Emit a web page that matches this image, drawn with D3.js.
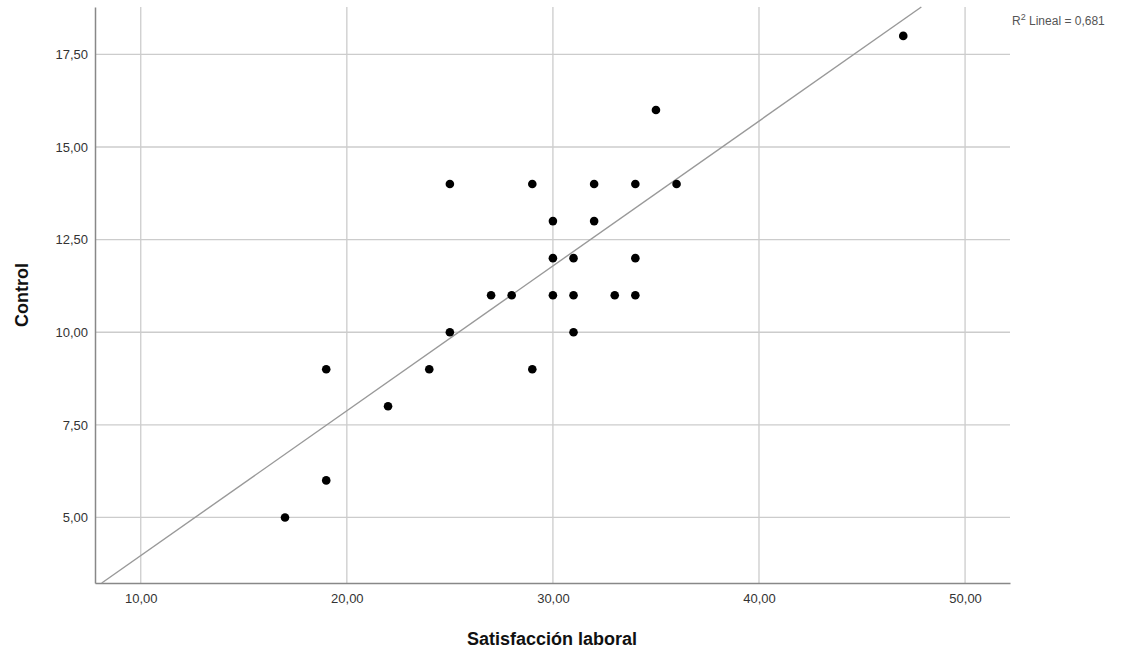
<!DOCTYPE html>
<html>
<head>
<meta charset="utf-8">
<script src="https://cdn.jsdelivr.net/npm/d3@7"></script>
<style>
  body { margin: 0; background: #fff; }
  svg { display: block; font-family: "Liberation Sans", Arial, sans-serif; }
</style>
</head>
<body>
<div id="chart"></div>
<script>
// Satisfacción laboral (x) vs Control (y)
var satisfaccion = [17, 19, 19, 22, 24, 25, 25, 27, 28, 29, 29, 30, 30, 30, 31, 31, 31, 32, 32, 33, 34, 34, 34, 35, 36, 47];
var control      = [ 5,  6,  9,  8,  9, 10, 14, 11, 11,  9, 14, 11, 12, 13, 10, 11, 12, 13, 14, 11, 11, 12, 14, 16, 14, 18];
var xTicks = [10, 20, 30, 40, 50];
var yTicks = [5, 7.5, 10, 12.5, 15, 17.5];
// linear fit as drawn in the picture (some points may overlap)
var fitIntercept = 0.06;
var fitSlope = 0.391;
var r2Text = "0,681";

var w = 1126, h = 649;
var plotL = 95, plotR = 1010, plotT = 7, plotB = 583;

var svg = d3.select("#chart").append("svg")
    .attr("width", w)
    .attr("height", h);

var x = d3.scaleLinear().domain([7.78, 52.18]).range([plotL, plotR]);
var y = d3.scaleLinear().domain([3.23, 18.78]).range([plotB, plotT]);

var fmt = function (d) { return d3.format(".2f")(d).replace(".", ","); };

// grid lines
svg.append("g").selectAll("line")
    .data(xTicks)
    .enter().append("line")
    .attr("x1", function (d) { return x(d); })
    .attr("x2", function (d) { return x(d); })
    .attr("y1", plotT)
    .attr("y2", plotB)
    .attr("stroke", "#cccccc")
    .attr("stroke-width", 1.3);

svg.append("g").selectAll("line")
    .data(yTicks)
    .enter().append("line")
    .attr("x1", plotL)
    .attr("x2", plotR)
    .attr("y1", function (d) { return y(d); })
    .attr("y2", function (d) { return y(d); })
    .attr("stroke", "#cccccc")
    .attr("stroke-width", 1.3);

// axes
var xAxis = d3.axisBottom(x).tickValues(xTicks).tickFormat(fmt).tickSize(0).tickPadding(11);
var yAxis = d3.axisLeft(y).tickValues(yTicks).tickFormat(fmt).tickSize(0).tickPadding(7);

var gx = svg.append("g")
    .attr("transform", "translate(0," + plotB + ")")
    .call(xAxis);
var gy = svg.append("g")
    .attr("transform", "translate(" + plotL + ",0)")
    .call(yAxis);

[gx, gy].forEach(function (g) {
    g.select(".domain").attr("stroke", "#888888").attr("stroke-width", 1.5);
    g.selectAll("text")
        .attr("fill", "#333333")
        .attr("font-size", "13px")
        .attr("font-family", "'Liberation Sans', Arial, sans-serif");
});

// fit line, clipped to the plot area
var xs0 = Math.max(x.domain()[0], (y.domain()[0] - fitIntercept) / fitSlope);
var xs1 = Math.min(x.domain()[1], (y.domain()[1] - fitIntercept) / fitSlope);

svg.append("line")
    .attr("x1", x(xs0))
    .attr("y1", y(fitIntercept + fitSlope * xs0))
    .attr("x2", x(xs1))
    .attr("y2", y(fitIntercept + fitSlope * xs1))
    .attr("stroke", "#999999")
    .attr("stroke-width", 1.4);

// points
svg.append("g").selectAll("circle")
    .data(satisfaccion)
    .enter().append("circle")
    .attr("cx", function (d) { return x(d); })
    .attr("cy", function (d, i) { return y(control[i]); })
    .attr("r", 4.3)
    .attr("fill", "#000000");

// axis titles
svg.append("text")
    .attr("x", 552)
    .attr("y", 645)
    .attr("text-anchor", "middle")
    .style("font-weight", "bold")
    .style("font-size", "18px")
    .attr("fill", "#111111")
    .text("Satisfacción laboral");

svg.append("text")
    .attr("transform", "translate(28,295)rotate(-90)")
    .attr("text-anchor", "middle")
    .style("font-weight", "bold")
    .style("font-size", "18px")
    .attr("fill", "#111111")
    .text("Control");

// R² annotation
var r2 = svg.append("text")
    .attr("x", 1012)
    .attr("y", 25)
    .attr("fill", "#555555")
    .style("font-size", "12px");
r2.append("tspan").text("R");
r2.append("tspan").attr("dy", -5).style("font-size", "9px").text("2");
r2.append("tspan").attr("dy", 5).text(" Lineal = " + r2Text);
</script>
</body>
</html>
